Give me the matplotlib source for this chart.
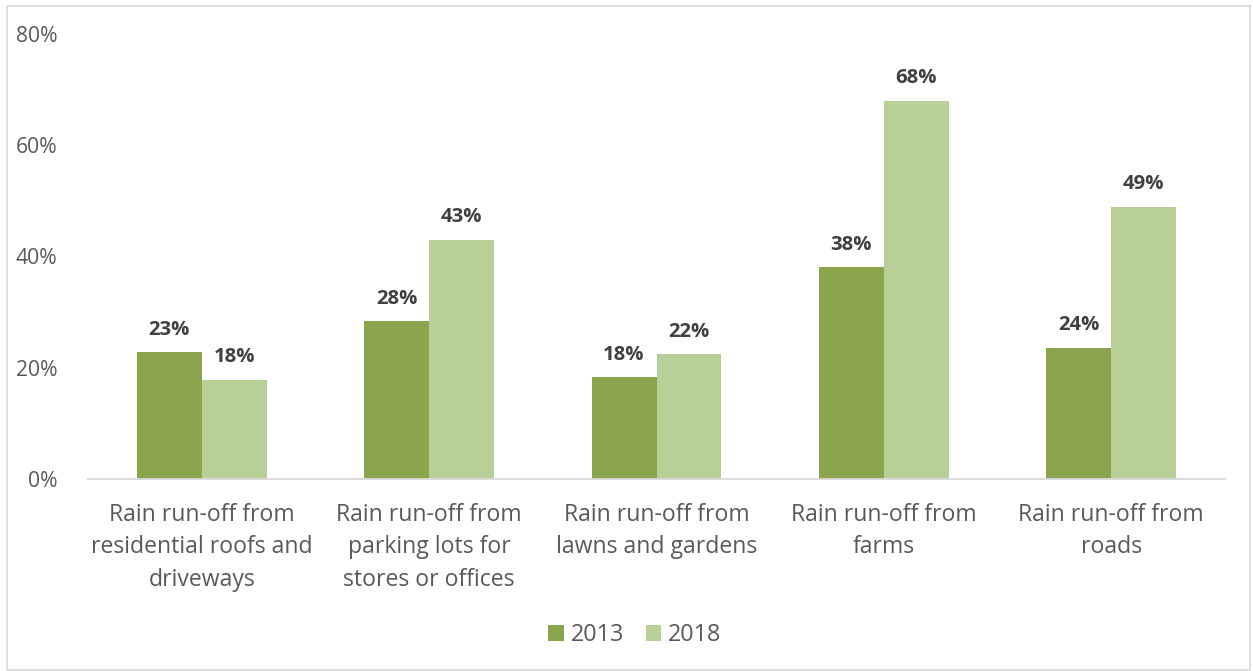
import matplotlib
matplotlib.use("Agg")
import matplotlib.pyplot as plt
from matplotlib.patches import Rectangle
import numpy as np

plt.rcParams['font.family'] = ['Open Sans', 'DejaVu Sans']

categories = [
    "Rain run-off from\nresidential roofs and\ndriveways",
    "Rain run-off from\nparking lots for\nstores or offices",
    "Rain run-off from\nlawns and gardens",
    "Rain run-off from\nfarms",
    "Rain run-off from\nroads",
]
series_names = ["2013", "2018"]
values_2013 = [22.8, 28.4, 18.3, 38.1, 23.6]
values_2018 = [17.8, 43.0, 22.4, 68.0, 48.9]
y_ticks = [0, 20, 40, 60, 80]

color_2013 = "#8AA54E"
color_2018 = "#B9CF98"
text_gray = "#595959"
label_gray = "#404040"

W, H = 1253, 671
fig = plt.figure(figsize=(W / 100, H / 100), dpi=100)
ax = fig.add_axes([88 / W, 1 - 479 / H, (1225 - 88) / W, (479 - 34) / H])

x = np.arange(len(categories))
bw = 0.2857
b1 = ax.bar(x - bw / 2, values_2013, bw, color=color_2013, label=series_names[0])
b2 = ax.bar(x + bw / 2, values_2018, bw, color=color_2018, label=series_names[1])

for bars, vals in ((b1, values_2013), (b2, values_2018)):
    for rect, v in zip(bars, vals):
        ax.annotate(f"{v:.0f}%", (rect.get_x() + rect.get_width() / 2, v),
                    xytext=(0, 9), textcoords="offset points",
                    ha="center", va="bottom", fontsize=14.6, fontweight="bold",
                    color=label_gray)

ax.set_xlim(-0.5, len(categories) - 0.5)
ax.set_ylim(0, 80)
ax.set_yticks(y_ticks)
ax.set_yticklabels([f"{t}%" for t in y_ticks])
ax.set_xticks(x)
ax.set_xticklabels(categories, linespacing=1.45)
ax.tick_params(axis="y", length=0, pad=22, labelsize=15.2, labelcolor=text_gray)
ax.tick_params(axis="x", length=0, pad=17.5, labelsize=16.6, labelcolor=text_gray)
for side in ("left", "right", "top"):
    ax.spines[side].set_visible(False)
ax.spines["bottom"].set_color("#D9D9D9")
ax.spines["bottom"].set_linewidth(1.3)

leg = fig.legend(loc="center", bbox_to_anchor=(635 / W, 1 - 635 / H), ncol=2,
                 frameon=False, fontsize=16.8, handlelength=0.65, handleheight=0.65,
                 handletextpad=0.3, columnspacing=0.95)
for t in leg.get_texts():
    t.set_color(text_gray)

fig.patches.append(Rectangle((7 / W, 0.002), 1 - 7 / W - 0.002, 1 - 6 / H - 0.002,
                             transform=fig.transFigure, fill=False,
                             edgecolor="#D9D9D9", linewidth=1.2))

fig.savefig("out.png", dpi=100)
